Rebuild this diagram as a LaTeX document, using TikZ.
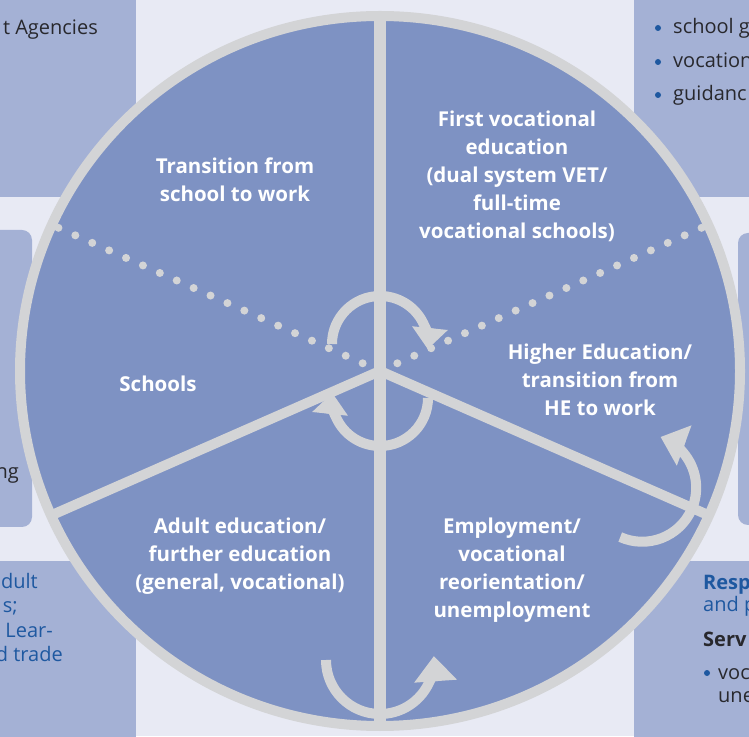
\documentclass[tikz,border=0pt]{standalone}
\usepackage{fontspec}
\setmainfont{Open Sans}
\usepackage{tikz}
\usetikzlibrary{arrows.meta, calc}
\definecolor{lavender}{RGB}{232,234,244}
\definecolor{panel}{RGB}{164,177,213}
\definecolor{wheel}{RGB}{126,146,195}
\definecolor{rim}{RGB}{211,212,214}
\definecolor{inkblue}{RGB}{30,88,160}
\definecolor{ink}{RGB}{40,40,45}

\begin{document}
\begin{tikzpicture}[x=1pt, y=1pt,
    rimline/.style={draw=rim, line width=10pt},
    turn/.style={draw=rim, line width=10pt, -{Triangle[length=21pt 0 0, width=36pt 0 0, line width=0pt]}},
    bigturn/.style={draw=rim, line width=10pt, -{Triangle[length=25pt 0 0, width=43pt 0 0, line width=0pt]}},
    phase/.style={text=white, font=\bfseries\fontsize{20.5}{28}\selectfont, align=center},
    side/.style={font=\fontsize{20}{24}\selectfont, inner sep=0pt}]
  \useasboundingbox (0, 0) rectangle (749, 736);
  \fill[lavender] (0, 0) rectangle (749, 736);

  % panels behind the wheel
  \fill[panel] (-5, 539) rectangle (136, 741);
  \fill[panel] (634, 539) rectangle (754, 741);
  \fill[panel] (-5, -5) rectangle (136, 175);
  \fill[panel] (634, -5) rectangle (754, 175);
  \fill[panel, rounded corners=10] (-20, 209) rectangle (32, 506);
  \fill[panel, rounded corners=10] (738, 211) rectangle (770, 503);

  \node[side, text=ink, anchor=base east] at (98, 701) {t Agencies};
  \foreach \y/\txt in {702/school g, 668/vocation, 635/guidanc} {
    \fill[inkblue] (658, \y+6) circle[radius=3];
    \node[side, text=ink, anchor=base west] at (673, \y) {\txt};
  }
  \node[side, text=ink, anchor=base east] at (19, 257) {ng};
  \node[side, text=inkblue, anchor=base east] at (38, 147) {dult};
  \node[side, text=inkblue, anchor=base east] at (18, 123) {s;};
  \node[side, text=inkblue, anchor=base east] at (53, 99) {Lear-};
  \node[side, text=inkblue, anchor=base east] at (63, 75) {d trade};
  \node[side, text=inkblue, anchor=base west, font=\bfseries\fontsize{20}{24}\selectfont] at (703, 146) {Resp};
  \node[side, text=inkblue, anchor=base west] at (703, 124) {and p};
  \node[side, text=ink, anchor=base west, font=\bfseries\fontsize{20}{24}\selectfont] at (703, 89) {Serv};
  \fill[inkblue] (707, 63) circle[radius=3];
  \node[side, text=ink, anchor=base west] at (718, 57) {voc};
  \node[side, text=ink, anchor=base west] at (718, 34) {une};

  % the wheel
  \coordinate (C) at (380, 365);
  \fill[wheel] (C) ellipse[x radius=360, y radius=355];
  \draw[rimline] (C) ellipse[x radius=360, y radius=355];
  \draw[draw=rim, line width=12pt] (C) ++(0, 355) -- ++(0, -710);
  \draw[rimline] (C) -- ++(204:360 and 355);
  \draw[rimline] (C) -- ++(336:360 and 355);
  \foreach \r in {19,37.5,...,352} {
    \fill[rim] (C) ++(156:\r) circle[radius=4];
    \fill[rim] (C) ++(24:\r) circle[radius=4];
  }

  % turning arrows
  \draw[turn] (C) ++(0, 27) ++(180:48) arc[start angle=180, end angle=-6, radius=48];
  \begin{scope}[rotate around={180:(C)}]
    \draw[turn] (C) ++(0, 27) ++(180:48) arc[start angle=180, end angle=-6, radius=48];
  \end{scope}
  \draw[bigturn] (C) ++(0, -289) ++(180:54) arc[start angle=180, end angle=364, radius=54];
  \begin{scope}[rotate around={66:(C)}]
    \draw[bigturn] (C) ++(0, -287) ++(180:54) arc[start angle=180, end angle=364, radius=54];
  \end{scope}

  % phases
  \node[phase] (transition) at (235, 556) {Transition from\\school to work};
  \node[phase] (firstvet) at (517, 560) {First vocational\\education\\(dual system VET/\\full-time\\vocational schools)};
  \node[phase] (schools) at (158, 352) {Schools};
  \node[phase] (higher) at (600, 356) {Higher Education/\\transition from\\HE to work};
  \node[phase] (adult) at (240, 180) {Adult education/\\further education\\(general, vocational)};
  \node[phase] (employ) at (512, 166) {Employment/\\vocational\\reorientation/\\unemployment};
\end{tikzpicture}
\end{document}
